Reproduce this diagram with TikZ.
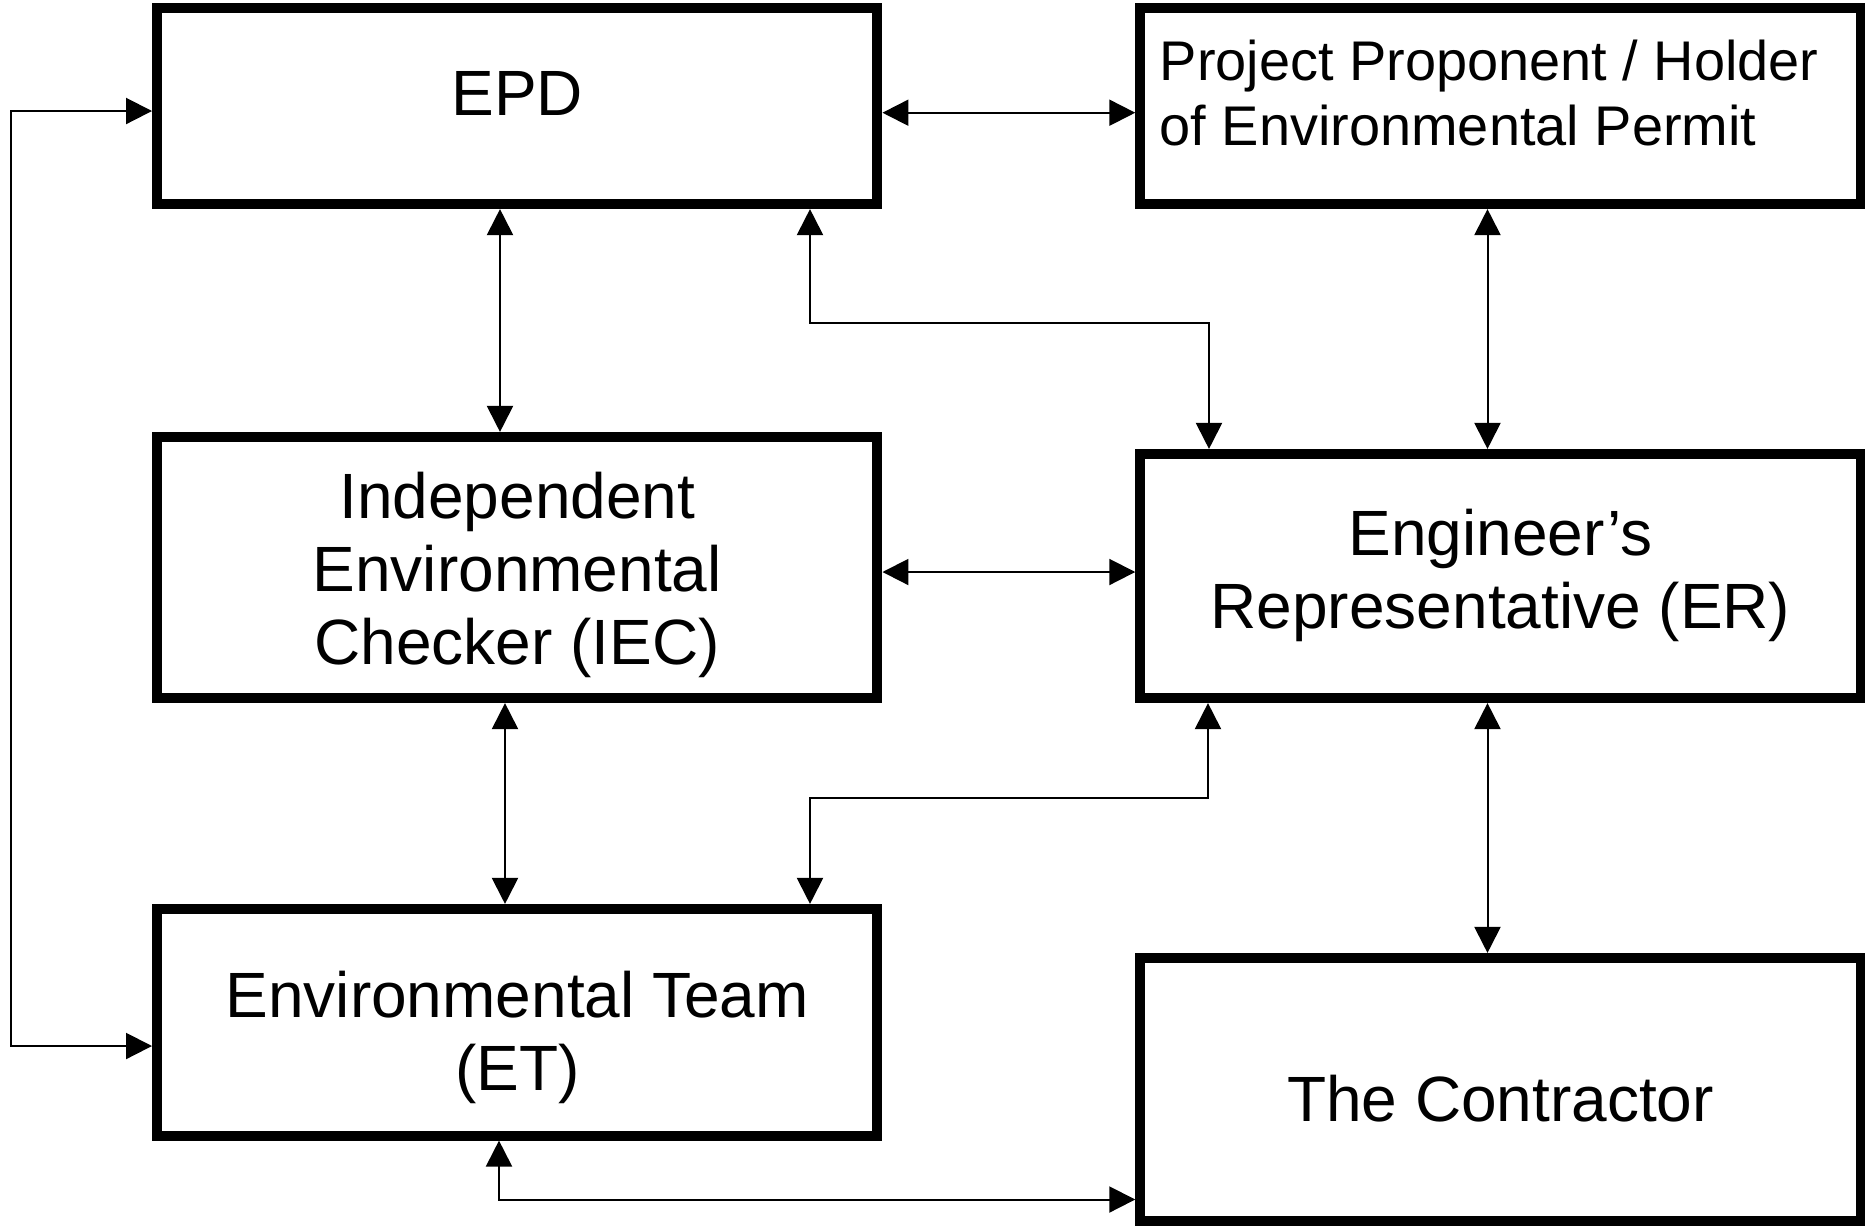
\documentclass[tikz,border=0pt]{standalone}
\usepackage{fontspec}
\setmainfont{Liberation Sans}
\usetikzlibrary{arrows.meta}

\begin{document}
\begin{tikzpicture}[x=0.01cm, y=-0.01cm,
		unitbox/.style={draw, line width=0.1cm, minimum width=7.2cm, inner sep=0pt},
		txt/.style={inner sep=0pt, align=center, font=\fontsize{18.2}{20.8}\selectfont},
		link/.style={line width=0.02cm, {Triangle[length=0.26cm,width=0.26cm]}-{Triangle[length=0.26cm,width=0.26cm]}}]
		%%%%% START %%%%%
		\useasboundingbox (0,0) rectangle (1865,1226);
		
		\node[unitbox, minimum height=1.963cm] (epd) at (517.25,105.85) {};
		\node[unitbox, minimum height=1.963cm] (pp) at (1500.5,105.85) {};
		\node[unitbox, minimum height=2.61cm] (iec) at (517.25,567.5) {};
		\node[unitbox, minimum height=2.44cm] (er) at (1500.5,576) {};
		\node[unitbox, minimum height=2.265cm] (et) at (517.25,1022.25) {};
		\node[unitbox, minimum height=2.63cm] (ct) at (1500.5,1089.5) {};
		
		\node[txt, anchor=north] (epdtext) at (517.25,70.4) {EPD};
		\node[txt, anchor=north west, align=left, font=\fontsize{15.9}{18.5}\selectfont] (pptext) at (1159,39) {Project Proponent / Holder\\of Environmental Permit};
		\node[txt, anchor=north] (iectext) at (517.25,471) {Independent\\Environmental\\Checker (IEC)};
		\node[txt, anchor=north] (ertext) at (1500.5,508.3) {Engineer’s\\Representative (ER)};
		\node[txt, anchor=north] (ettext) at (517.25,970) {Environmental Team\\(ET)};
		\node[txt, anchor=north] (cttext) at (1500.5,1074) {The Contractor};
		
		\draw[link] (epd.west |- 0,111) -- (10.7,111) -- (10.7,1046) -- (et.west |- 0,1046);
		\draw[link] (epd.east |- 0,112.7) -- (pp.west |- 0,112.7);
		\draw[link] (epd.south -| 500,0) -- (iec.north -| 500,0);
		\draw[link] (epd.south -| 810,0) -- (810,323) -- (1209,323) -- (er.north -| 1209,0);
		\draw[link] (pp.south -| 1487.5,0) -- (er.north -| 1487.5,0);
		\draw[link] (iec.east |- 0,572) -- (er.west |- 0,572);
		\draw[link] (iec.south -| 505,0) -- (et.north -| 505,0);
		\draw[link] (er.south -| 1208,0) -- (1208,797.5) -- (810,797.5) -- (et.north -| 810,0);
		\draw[link] (er.south -| 1487.5,0) -- (ct.north -| 1487.5,0);
		\draw[link] (et.south -| 499,0) -- (499,1199.5) -- (ct.west |- 0,1199.5);
		%%%%% END %%%%%
	\end{tikzpicture}
\end{document}
